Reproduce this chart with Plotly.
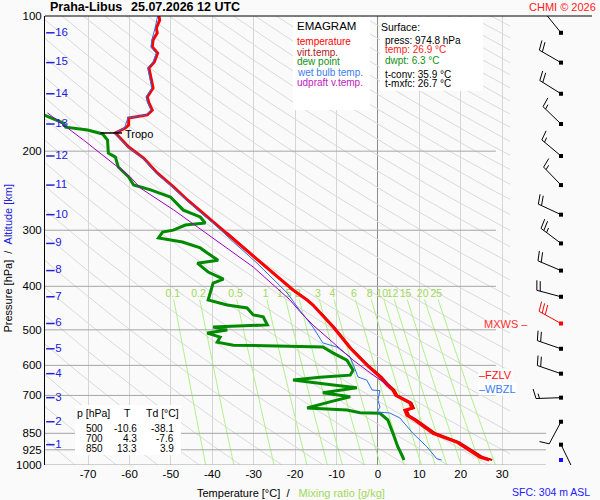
import math

import numpy as np
import plotly.graph_objects as go

# --- header / footer texts
STATION = "Praha-Libus"
RUN_TIME = "25.07.2026 12 UTC"
COPYRIGHT = "CHMI © 2026"
SFC_NOTE = "SFC: 304 m ASL"

# --- sounding, pressure [hPa] / value [°C]
temp_p = [100, 102.1, 106.3, 109.1, 113.1, 117.2, 120.9, 126.6, 130.6, 136.8, 144.7, 151.5,
          156.2, 162.0, 166.1, 168.7, 174.9, 177.6, 182.2, 195.8, 207.2, 223.7, 240.4, 256.9,
          280.3, 304.3, 337.2, 373.6, 407.6, 429.1, 440.2, 492.8, 548.8, 598.8, 636.8, 663.0,
          681.0, 700.0, 727.0, 747.0, 755.0, 775.0, 794.0, 850.0, 889.0, 960.0, 974.8]
temp_c = [-52.9, -52.7, -53.5, -53.3, -54.3, -54.5, -53.2, -54.0, -55.3, -54.9, -54.3, -55.7,
          -55.3, -54.5, -55.7, -60.2, -60.2, -61.0, -63.4, -60.2, -56.6, -53.3, -49.3, -46.0,
          -41.2, -36.4, -30.8, -25.3, -20.5, -17.1, -15.7, -10.8, -6.7, -2.7, 0.5, 2.2,
          3.6, 4.3, 7.7, 8.2, 6.5, 7.0, 8.9, 13.3, 19.0, 24.6, 26.9]

virt_p = [304.3, 337.2, 373.6, 407.6, 429.1, 440.2, 492.8, 548.8, 598.8, 636.8, 663.0,
          681.0, 700.0, 727.0, 747.0, 755.0, 775.0, 794.0, 850.0, 889.0, 960.0, 974.8]
virt_c = [-36.4, -30.8, -25.3, -20.5, -17.0, -15.6, -10.6, -6.5, -2.4, 0.9, 2.6,
          4.0, 4.7, 8.1, 8.7, 7.0, 7.5, 9.4, 13.9, 19.6, 25.3, 27.6]

dewp_p = [164, 167, 173.2, 176.8, 179.5, 183.1, 188.9, 202.1, 206.2, 216.9, 228.3, 237.9,
          243.9, 253.0, 270.6, 280.3, 289.1, 292.1, 299.8, 302.9, 312.2, 318.6, 328.5, 337.2,
          349.8, 355.2, 371.7, 385.4, 393.4, 413.9, 429.1, 440.2, 447.0, 463.1, 467.8, 487.6,
          492.8, 500.6, 508.4, 519.0, 532.5, 540.8, 543.6, 546.2, 563.3, 584.0, 615.0, 630.9,
          637.3, 647.0, 663.2, 673.2, 690.6, 704.9, 723.3, 746.6, 754.4, 765.0, 767.0, 793.9,
          849.0, 910.2, 959.7, 974.8]
dewp_c = [-82.0, -80.0, -75.9, -75.4, -70.1, -66.5, -65.3, -65.1, -63.4, -62.7, -60.2, -59.0,
          -54.9, -50.1, -47.0, -42.9, -41.7, -46.5, -49.4, -52.0, -53.0, -47.2, -42.9, -41.2,
          -38.6, -43.6, -41.0, -37.3, -39.8, -40.5, -41.0, -36.4, -31.6, -30.1, -27.7, -26.7,
          -39.8, -36.4, -41.2, -38.1, -38.8, -34.9, -18.8, -13.3, -10.8, -7.5, -6.0, -6.7,
          -14.0, -20.5, -10.8, -5.1, -13.3, -6.7, -11.6, -17.1, -7.5, -4.3, 0.5, 2.4,
          3.6, 4.8, 6.0, 6.3]

wetb_p = [100, 106.3, 113.1, 117.2, 120.9, 126.6, 130.6, 136.8, 144.7, 151.5, 156.2, 162.0,
          166.1, 168.7, 177.6, 182.2, 195.8, 207.2, 223.7, 240.4, 256.9, 280.3, 289.1, 318.6,
          355.2, 413.9, 447.0, 492.8, 534.7, 546.2, 574.6, 636.8, 647.0, 680.7, 683.0, 716.6,
          742.8, 762.0, 766.0, 785.6, 849.0, 910.0, 968.0, 974.8]
wetb_c = [-53.2, -53.8, -54.6, -54.8, -53.5, -54.3, -55.6, -55.2, -54.6, -56.0, -55.6, -54.8,
          -56.0, -60.4, -61.2, -63.6, -60.4, -56.8, -53.6, -49.6, -46.3, -41.6, -39.8, -34.9,
          -29.2, -21.9, -19.3, -15.7, -13.3, -9.9, -6.7, -4.8, -2.7, -1.4, 0.5, 0.0,
          0.5, -0.2, 2.9, 5.3, 8.4, 11.8, 14.2, 15.4]

updr_p = [164.4, 188.9, 228.3, 241.9, 270.4, 312.2, 362.3, 429.1, 455.7, 487.7, 534.7, 584.0,
          623.1, 669.6]
updr_c = [-79.8, -71.1, -59.8, -57.3, -49.3, -39.8, -30.1, -21.2, -18.8, -15.7, -10.8, -6.0,
          -1.9, 2.9]

# --- wind barbs, one per km of altitude
alt_km = [16, 15, 14, 13, 12, 11, 10, 9, 8, 7, 6, 5, 4, 3, 2, 1]
alt_p = [109, 127, 149, 174, 205, 238, 277, 321, 369, 422, 484, 551, 626, 708, 801, 901]
wind_dir = [321, 300, 302, 314, 310, 316, 295, 307, 293, 285, 299, 289, 289, 268, 208, 154]
wind_kt = [10, 20, 20, 15, 15, 15, 20, 25, 20, 20, 30, 20, 20, 15, 10, 5]
MXWS_KM = 6
sfc_p = 974.8

# --- marked levels
level_names = ["MXWS", "FZLV", "WBZL"]
level_p = [484, 630, 677]
tropo_p = 182.2
tropo_t = -63.4

# --- info boxes
surface_text = ["Surface:", "press: 974.8 hPa", "temp: 26.9 °C", "dwpt: 6.3 °C",
                "t-conv: 35.9 °C", "t-mxfc: 26.7 °C"]
legend_text = ["EMAGRAM", "temperature", "virt.temp.", "dew point", "wet bulb temp.",
               "udpraft v.temp."]
table_head = ["p [hPa]", "T", "Td [°C]"]
table_p = ["500", "700", "850"]
table_t = ["-10.6", "4.3", "13.3"]
table_td = ["-38.1", "-7.6", "3.9"]

mix_ratios = [0.1, 0.2, 0.5, 1, 1.5, 2, 3, 4, 6, 8, 10, 12, 15, 20, 25]
mix_labels = ["0.1", "0.2", "0.5", "1", "1.5", "2", "3", "4", "6", "8", "10", "12", "15", "20", "25"]

press_ticks = [100, 200, 300, 400, 500, 600, 700, 850, 925, 1000]
press_ticktext = ["100", "200", "300", "400", "500", "600", "700", "850", "925", "1000"]
temp_ticks = [-70, -60, -50, -40, -30, -20, -10, 0, 10, 20, 30]
temp_ticktext = ["-70", "-60", "-50", "-40", "-30", "-20", "-10", "0", "10", "20", "30"]

# --- colours
RED = "#ff0000"
VIRT = "#c80000"
GREEN = "#008a00"
BLUE = "#2a6fe6"
PURPLE = "#a000c0"
MIX = "#b2f08a"
MIX_TXT = "#9fd85a"
FONT = "Liberation Sans, Arial, sans-serif"

# --- page geometry (pixels)
W, H = 600, 500
ML, MT, MB = 45, 16, 35
PW, PH = W - ML, H - MT - MB
SPLIT = 510                      # right edge of the temperature area
T_MIN, T_MAX = -80.4, 31.9
PX_LN = PH / math.log(10)        # pixels per ln(p)
STAFF_X, STAFF_LEN, FEATHER, GAP = 561, 25, 10, 3.5


def px(x, y):
    return (x - ML) / PW, (H - MB - y) / PH


def td_of_mix(w, p):
    e = w * p / (622.0 + w)
    g = math.log(e / 6.112)
    return 243.5 * g / (17.67 - g)


def barb(p0, d, kt):
    r = math.radians(d)
    ux, uy = math.sin(r), -math.cos(r)
    a = math.radians(15)
    fx = math.cos(a) * (-uy) + math.sin(a) * ux
    fy = math.cos(a) * ux + math.sin(a) * uy
    segs = [((0, 0), (STAFF_LEN * ux, STAFF_LEN * uy))]
    pos = STAFF_LEN
    for _ in range(kt // 10):
        b = (pos * ux, pos * uy)
        segs.append((b, (b[0] + FEATHER * fx, b[1] + FEATHER * fy)))
        pos -= GAP
    if kt % 10 >= 5:
        b = (pos * ux, pos * uy)
        segs.append((b, (b[0] + FEATHER / 2 * fx, b[1] + FEATHER / 2 * fy)))
    xs, ys = [], []
    for s in segs:
        for q in s:
            xs.append(STAFF_X + q[0])
            ys.append(p0 * math.exp(q[1] / PX_LN))
        xs.append(None)
        ys.append(None)
    return xs, ys


fig = go.Figure()
line = dict(mode="lines", hoverinfo="skip", showlegend=False)

# dry adiabats
pp = np.geomspace(100, 1000, 60)
ax_x, ax_y = [], []
for theta in range(190, 600, 10):
    ax_x += list(theta * (pp / 1000.0) ** 0.2857 - 273.15) + [None]
    ax_y += list(pp) + [None]
fig.add_trace(go.Scatter(x=ax_x, y=ax_y, line=dict(color="#dadada", width=1), **line))

# mixing ratio lines
pm = np.geomspace(428, 1000, 30)
mx_x, mx_y = [], []
for w in mix_ratios:
    mx_x += [td_of_mix(w, p) for p in pm] + [None]
    mx_y += list(pm) + [None]
fig.add_trace(go.Scatter(x=mx_x, y=mx_y, line=dict(color=MIX, width=1), **line))
fig.add_trace(go.Scatter(
    x=[td_of_mix(w, 416) for w in mix_ratios], y=[416] * len(mix_ratios), mode="text",
    text=mix_labels, textposition="middle center", hoverinfo="skip", showlegend=False,
    textfont=dict(color=MIX_TXT, size=10.5, family=FONT)))

# pressure grid
gx, gy = [], []
for p in press_ticks[1:]:
    gx += [T_MIN, 28.5 if p < 850 else T_MAX, None]
    gy += [p, p, None]
fig.add_trace(go.Scatter(x=gx, y=gy, line=dict(color="#a6a6a6", width=1), **line))
ex, ey = [], []
for p in [850, 925, 1000]:
    ex += [SPLIT, 546, None]
    ey += [p, p, None]
fig.add_trace(go.Scatter(x=ex, y=ey, xaxis="x2", line=dict(color="#a6a6a6", width=1), **line))

# profiles
fig.add_trace(go.Scatter(x=virt_c, y=virt_p, line=dict(color=VIRT, width=2), **line))
fig.add_trace(go.Scatter(x=temp_c, y=temp_p, line=dict(color=RED, width=3), **line))
fig.add_trace(go.Scatter(x=dewp_c, y=dewp_p, line=dict(color=GREEN, width=3), **line))
fig.add_trace(go.Scatter(x=wetb_c, y=wetb_p, line=dict(color=BLUE, width=1), **line))
fig.add_trace(go.Scatter(x=updr_c, y=updr_p, line=dict(color=PURPLE, width=1), **line))

# tropopause
fig.add_trace(go.Scatter(x=[tropo_t - 3.6, tropo_t + 1.6], y=[tropo_p, tropo_p],
                         line=dict(color="black", width=1.5), **line))

# altitude marks on the left
fig.add_trace(go.Scatter(
    x=[T_MIN + 1.3] * len(alt_km), y=alt_p, mode="markers+text",
    text=[str(k) for k in alt_km], textposition="middle right",
    marker=dict(symbol="line-ew", size=6, line=dict(width=1.5, color="#2020e0")),
    textfont=dict(color="#2020e0", size=11.5, family=FONT),
    hoverinfo="skip", showlegend=False, cliponaxis=False))

# wind barbs
for k, p, d, v in zip(alt_km, alt_p, wind_dir, wind_kt):
    bx, by = barb(p, d, v)
    col = RED if k == MXWS_KM else "black"
    fig.add_trace(go.Scatter(x=bx, y=by, xaxis="x2", cliponaxis=False,
                             line=dict(color=col, width=1), **line))
fig.add_trace(go.Scatter(
    x=[STAFF_X] * (len(alt_p) + 1), y=alt_p + [sfc_p], xaxis="x2", mode="markers",
    marker=dict(symbol="square", size=4,
                color=[RED if k == MXWS_KM else "black" for k in alt_km] + ["#1010ff"]),
    hoverinfo="skip", showlegend=False, cliponaxis=False))

anns = []


def ann(x, y, text, color="black", size=10.5, anchor="left", **kw):
    xp, yp = px(x, y)
    anns.append(dict(x=xp, y=yp, xref="paper", yref="paper", text=text, showarrow=False,
                     xanchor=anchor, yanchor="middle", borderpad=0,
                     font=dict(color=color, size=size, family=FONT), **kw))


ann(49, 7.5, f"<b>{STATION}</b>", size=12.5)
ann(130, 7.5, f"<b>{RUN_TIME}</b>", size=12.5)
ann(597, 7, COPYRIGHT, color="#ff2020", size=11, anchor="right")
ann(591, 492, SFC_NOTE, color="#2020ff", size=10.5, anchor="right")
ann(196, 493, "Temperature [°C]\u00a0\u00a0/\u00a0\u00a0\u00a0"
    f"<span style='color:{MIX_TXT}'>Mixing ratio [g/kg]</span>", size=11)
anns.append(dict(x=px(7.5, 258)[0], y=px(7.5, 258)[1], xref="paper", yref="paper",
                 text="Pressure [hPa]\u00a0\u00a0/\u00a0\u00a0"
                      "<span style='color:#2020e0'>Altitude [km]</span>",
                 textangle=-90, showarrow=False, xanchor="center", yanchor="middle",
                 font=dict(size=11, family=FONT)))

for txt, col, y in zip(legend_text, ["black", RED, "#b01818", "#109010", "#3c7cf0", "#c020c0"],
                       [26, 42, 52, 62, 72, 82]):
    ann(296, y, txt, color=col, size=11.5 if txt == "EMAGRAM" else 10)
for txt, col, x, y in zip(surface_text, ["black", "black", "#ff2020", "#109010", "black", "black"],
                          [380, 384, 384, 384, 384, 384], [27, 40, 50, 60, 74, 84]):
    ann(x, y, txt, color=col, size=10.5 if txt == "Surface:" else 10)

ann(76, 413, table_head[0], size=10.5)
ann(127, 413, table_head[1], size=10.5, anchor="center")
ann(145, 413, table_head[2], size=10.5)
for i, y in enumerate([428, 438, 448]):
    ann(104, y, table_p[i], size=10, anchor="right")
    ann(138, y, table_t[i], size=10, anchor="right")
    ann(175, y, table_td[i], size=10, anchor="right")

ann(124, 134, "Tropo", size=11)

for name, p in zip(level_names, level_p):
    if name == "MXWS":
        anns.append(dict(x=px(530, 0)[0], y=math.log10(p), xref="paper", yref="y",
                         text="MXWS \u2013", showarrow=False, xanchor="right",
                         yanchor="middle", font=dict(color="#ff3030", size=11, family=FONT)))
    else:
        col = "#ff1010" if name == "FZLV" else "#3c7cf0"
        anns.append(dict(x=px(478, 0)[0], y=math.log10(p), xref="paper", yref="y",
                         text="\u2013" + name, showarrow=False, xanchor="left",
                         yanchor="middle", bgcolor="white", borderpad=0,
                         font=dict(color=col, size=11, family=FONT)))

box = dict(type="rect", xref="paper", yref="paper", fillcolor="white",
           line=dict(width=0), layer="above")
shapes = []
for x0, y0, x1, y1 in [(293, 17, 370, 110), (380, 17, 483, 91), (75, 405, 181, 455)]:
    a0, b0 = px(x0, y1)
    a1, b1 = px(x1, y0)
    shapes.append(dict(box, x0=a0, y0=b0, x1=a1, y1=b1))
shapes.append(dict(type="line", xref="paper", yref="paper", x0=0, x1=px(592, 0)[0], y0=1, y1=1,
                   line=dict(color="black", width=1)))

split = (SPLIT - ML) / PW
fig.update_layout(
    width=W, height=H, margin=dict(l=ML, r=0, t=MT, b=MB),
    paper_bgcolor="#fafafa", plot_bgcolor="#fafafa",
    font=dict(family=FONT, size=11, color="black"),
    showlegend=False, annotations=anns, shapes=shapes,
    xaxis=dict(domain=[0, split], range=[T_MIN, T_MAX], tickvals=temp_ticks,
               ticktext=temp_ticktext, showgrid=True, gridcolor="#d6d6d6", gridwidth=1,
               zeroline=True, zerolinecolor="#8c8c8c", zerolinewidth=1, ticks="",
               tickfont=dict(size=11.5), showline=False, fixedrange=True),
    xaxis2=dict(domain=[split, 1], range=[SPLIT, W], anchor="y", visible=False),
    yaxis=dict(type="log", range=[3, 2], tickvals=press_ticks, ticktext=press_ticktext,
               showgrid=False, zeroline=False, showline=True, linecolor="black",
               linewidth=1, ticks="", tickfont=dict(size=11.5)),
)

# the page body has a default 8px margin; drop it so the figure sits at the window corner
fig.write_html("out.html", config={"displayModeBar": False},
               post_script="document.body.style.margin='0px';")
